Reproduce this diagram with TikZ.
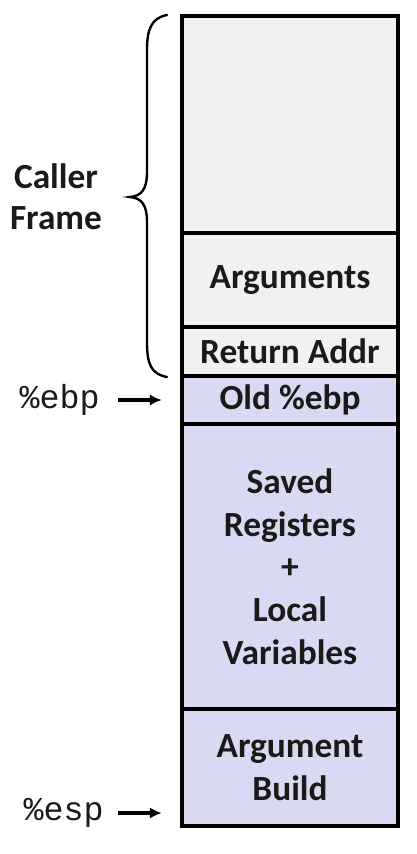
\documentclass[tikz,border=0pt]{standalone}
\usepackage{fontspec}
\setmainfont{Carlito}
\setmonofont{Liberation Mono}
\usetikzlibrary{arrows.meta}
\definecolor{callerfill}{HTML}{F1F1F1}
\definecolor{calleefill}{HTML}{D9D9F4}
\definecolor{textcol}{HTML}{1A1A1A}
\begin{document}
\begin{tikzpicture}[x=0.75pt,y=-0.75pt,
  cell/.style={draw=black, line width=2.3pt, minimum width=162pt, inner sep=0pt,
    align=center, text=textcol, font=\fontsize{26.5}{32}\selectfont\bfseries},
  caller/.style={cell, fill=callerfill},
  callee/.style={cell, fill=calleefill},
  reglabel/.style={inner sep=0pt, text=textcol, font=\fontsize{25}{30}\selectfont\ttfamily},
  sidelabel/.style={inner sep=0pt, align=center, text=textcol, font=\fontsize{26.5}{30.75}\selectfont\bfseries},
  ptr/.style={line width=2.5pt, -{Latex[length=9pt,width=8.5pt]}, shorten >=14pt},
  bracestyle/.style={line width=1.8pt, line cap=round}
]
\useasboundingbox (0,0) rectangle (417,854);
\fill[white] (0,0) rectangle (417,854);

\node[caller, minimum height=162.75pt] (blank) at (290,124.5) {};
\node[caller, minimum height=70.5pt] (args) at (290,280) {Arguments};
\node[caller, minimum height=36.75pt] (ret) at (290,351.5) {Return Addr};
\node[callee, minimum height=36pt] (oldebp) at (290,400) {Old \%ebp};
\node[callee, minimum height=213.75pt] (saved) at (290,566.5) {Saved\\Registers\\+\\Local\\Variables};
\node[callee, minimum height=87.75pt] (argbuild) at (290,767.5) {Argument\\Build};

\node[sidelabel] (callerframe) at (56,197) {Caller\\Frame};
\node[reglabel, anchor=east] (ebp) at (100,400) {\%ebp};
\node[reglabel, anchor=east] (esp) at (104,813) {\%esp};

\draw[ptr, shorten <=13.5pt] (ebp.east) -- (oldebp.west);
\draw[ptr, shorten <=10.5pt] (esp.east) -- (esp -| argbuild.west);

\draw[bracestyle] (167,15) .. controls (151,18) and (147,30) .. (147,50)
  -- (147,172) .. controls (147,190) and (141,196) .. (130,197)
  .. controls (141,198) and (147,204) .. (147,222)
  -- (147,342) .. controls (147,364) and (151,374) .. (167,377);
\end{tikzpicture}
\end{document}
